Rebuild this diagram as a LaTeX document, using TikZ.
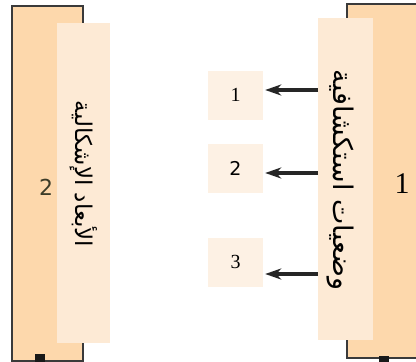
\documentclass[tikz,border=0pt]{standalone}
\usepackage{fontspec}
\setmainfont{Liberation Serif}
\newfontfamily\arabicfont[Script=Arabic]{DejaVu Sans}
\newfontfamily\numsans{DejaVu Sans}
\TeXXeTstate=1
\usetikzlibrary{arrows.meta}
\definecolor{peach}{HTML}{FDD8AC}
\definecolor{lightpeach}{HTML}{FDEAD5}
\definecolor{boxfill}{HTML}{FDF1E4}
\definecolor{framec}{HTML}{3A3A3A}
\definecolor{olivec}{HTML}{3C3C28}
\tikzset{
  outerpanel/.style={draw=framec, fill=peach, line width=1.6pt, inner sep=0pt, anchor=north west},
  innerpanel/.style={fill=lightpeach, draw=none, inner sep=0pt, anchor=north west},
  numbox/.style={fill=boxfill, draw=none, minimum width=55pt, minimum height=49pt, inner sep=0pt, font=\fontsize{20}{24}\selectfont},
  arabtext/.style={font=\arabicfont\fontsize{22}{26}\selectfont, inner sep=0pt},
  arr/.style={line width=3.2pt, draw=black!85, -{Stealth[length=16pt,width=11pt,inset=5pt]}},
  foot/.style={fill=black!90, draw=none, inner sep=0pt, minimum width=10pt, minimum height=8pt, anchor=north}
}
\begin{document}
\begin{tikzpicture}[x=1pt,y=-1pt]
\useasboundingbox[fill=white] (0,0) rectangle (416,362);
% left panel
\node[outerpanel, minimum width=71pt, minimum height=355pt] (lo) at (11,5) {};
\node[innerpanel, minimum width=53pt, minimum height=320pt] (li) at (57,23) {};
\node[foot] (lf) at (40,354) {};
\node[font=\numsans\fontsize{22}{26}\selectfont, text=olivec] (n2) at (46,187) {2};
\node[arabtext, rotate=-90, font=\arabicfont\fontsize{23}{27}\selectfont] (t2) at (84,174) {\beginR الأبعاد الإشكالية\endR};
% right panel
\node[outerpanel, minimum width=90pt, minimum height=354pt] (ro) at (346,3) {};
\node[innerpanel, minimum width=55pt, minimum height=322pt] (ri) at (318,18) {};
\node[foot, minimum height=7pt] (rf) at (384,356) {};
\node[font=\fontsize{30}{34}\selectfont] (n1) at (402,184) {1};
\node[arabtext, rotate=-90, font=\arabicfont\fontsize{27}{31}\selectfont] (t1) at (340,180) {\beginR وضعيات استكشافية\endR};
% boxes
\node[numbox] (b1) at (235.5,95) {1};
\node[numbox, font=\numsans\fontsize{19}{22}\selectfont] (b2) at (235.5,168) {2};
\node[numbox] (b3) at (235.5,262) {3};
% arrows
\coordinate (a1) at (318,90);
\coordinate (a2) at (318,173);
\coordinate (a3) at (318,274);
\draw[arr, shorten >=2pt] (a1) -- (b1.east |- a1);
\draw[arr, shorten >=2pt] (a2) -- (b2.east |- a2);
\draw[arr, shorten >=2pt] (a3) -- (b3.east |- a3);
\end{tikzpicture}
\end{document}
